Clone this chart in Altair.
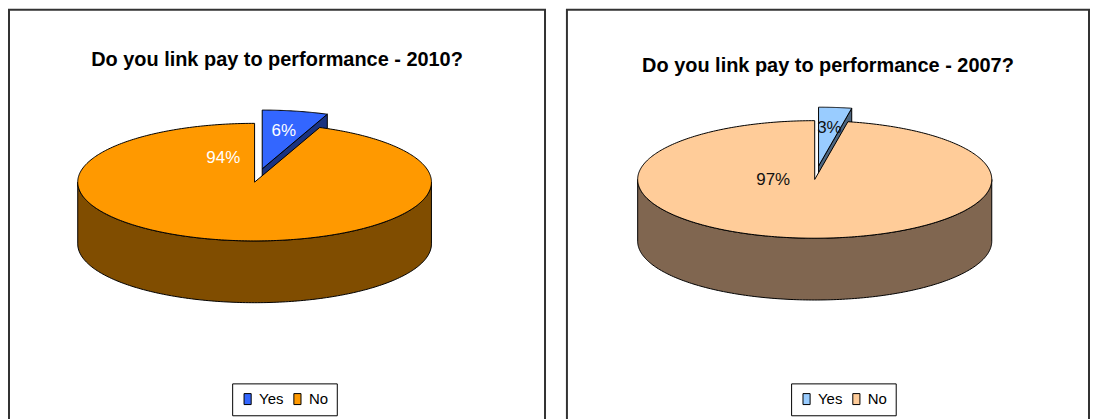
import math
import altair as alt
import pandas as pd

# ---------------- data ----------------
years = ["2010", "2007"]
categories = ["Yes", "No"]
yes_share = [6, 3]
no_share = [94, 97]
titles = ["Do you link pay to performance - 2010?",
          "Do you link pay to performance - 2007?"]

# ---------------- styles / layout ----------------
top_colors = [["#3366FF", "#FF9900"], ["#99CCFF", "#FFCC99"]]
side_colors = [["#1A3380", "#804D00"], ["#4D6680", "#806650"]]
label_colors = ["white", "#111111"]
panel_w = [538, 524]
panel_h = 420
centers = [(246.5, 173.0), (248.7, 170.3)]   # pie centre inside each panel (px)
radii = [(177.5, 59.0), (177.7, 59.0)]       # ellipse radii (px)
depth_px = 62
explode = 0.23
yes_label_r = 0.65
no_label_pos = [(336.5, 0.444), (267.0, 0.235)]  # (angle deg, radius) of the "No" label
title_offsets = [-76, -82]
legend_xy = [(224, 375), (225, 375)]
FONT = "Liberation Sans"


def pt(deg, r=1.0):
    a = math.radians(deg)
    return r * math.sin(a), r * math.cos(a)


def panel(i):
    cx, cy = centers[i]
    rx, ry = radii[i]
    W, H = panel_w[i], panel_h
    d = depth_px / ry
    total = yes_share[i] + no_share[i]
    yes_deg = 360.0 * yes_share[i] / total
    mid = yes_deg / 2
    ex, ey = pt(mid, explode)

    rows = []

    def add(key, pts):
        for k, (x, y) in enumerate(pts):
            rows.append({"key": key, "idx": k, "x": x, "y": y})

    # Yes slice (exploded)
    arc_yes = [pt(yes_deg * t / 60) for t in range(61)]
    add("Yes", [(ex, ey)] + [(ex + x, ey + y) for x, y in arc_yes])
    rx_e, ry_e = pt(yes_deg)
    add("Yes side", [(ex, ey), (ex + rx_e, ey + ry_e),
                     (ex + rx_e, ey + ry_e - d), (ex, ey - d)])
    # No slice
    n = 360
    arc_no = [pt(yes_deg + (360 - yes_deg) * t / n) for t in range(n + 1)]
    add("No", [(0.0, 0.0)] + arc_no)
    front = [pt(90 + 180 * t / 180) for t in range(181)]
    add("No side", front + [(x, y - d) for x, y in reversed(front)])

    df = pd.DataFrame(rows)

    xs = alt.Scale(domain=[-cx / rx, (W - cx) / rx], nice=False, zero=False)
    ys = alt.Scale(domain=[(cy - H) / ry, cy / ry], nice=False, zero=False)
    fs = alt.Scale(domain=["Yes", "No", "Yes side", "No side"],
                   range=top_colors[i] + side_colors[i])
    leg = alt.Legend(values=categories, orient="none",
                     legendX=legend_xy[i][0], legendY=legend_xy[i][1],
                     direction="horizontal", title=None,
                     symbolType="M-0.65,-1H0.65V1H-0.65Z", symbolSize=121,
                     symbolStrokeColor="black", symbolStrokeWidth=1,
                     symbolOpacity=1,
                     labelFont=FONT, labelFontSize=15, labelColor="black",
                     labelOffset=4, columnPadding=6, padding=8,
                     strokeColor="black", fillColor="white")

    def face(key):
        return (alt.Chart(df)
                .transform_filter(alt.datum.key == key)
                .mark_line(interpolate="linear-closed", filled=True,
                           stroke="black", strokeWidth=1, strokeJoin="round",
                           fillOpacity=1)
                .encode(x=alt.X("x:Q", scale=xs, axis=None),
                        y=alt.Y("y:Q", scale=ys, axis=None),
                        order=alt.Order("idx:Q"),
                        detail="key:N",
                        fill=alt.Fill("key:N", scale=fs, legend=leg)))

    # labels
    lx, ly = pt(mid, explode + yes_label_r)
    na, nr = no_label_pos[i]
    nx, ny = pt(na, nr)
    lbl = pd.DataFrame({"x": [lx, nx], "y": [ly, ny],
                        "text": [f"{yes_share[i]}%", f"{no_share[i]}%"]})
    labels = (alt.Chart(lbl)
              .mark_text(font=FONT, fontSize=17, color=label_colors[i],
                         align="center", baseline="middle")
              .encode(x=alt.X("x:Q", scale=xs, axis=None),
                      y=alt.Y("y:Q", scale=ys, axis=None),
                      text="text:N"))

    return alt.layer(face("Yes side"), face("Yes"), face("No side"), face("No"),
                     labels).properties(
        width=W, height=H,
        title=alt.TitleParams(titles[i], font=FONT, fontSize=20, fontWeight="bold",
                              color="black", anchor="middle",
                              baseline="alphabetic", offset=title_offsets[i]))


chart = (alt.hconcat(panel(0), panel(1), spacing=20)
         .resolve_scale(x="independent", y="independent", fill="independent")
         .resolve_legend(fill="independent")
         .properties(padding=0, background="white")
         .configure_view(stroke="#333333", strokeWidth=2))

chart.save("out.html", embed_options={"renderer": "svg", "actions": False})
